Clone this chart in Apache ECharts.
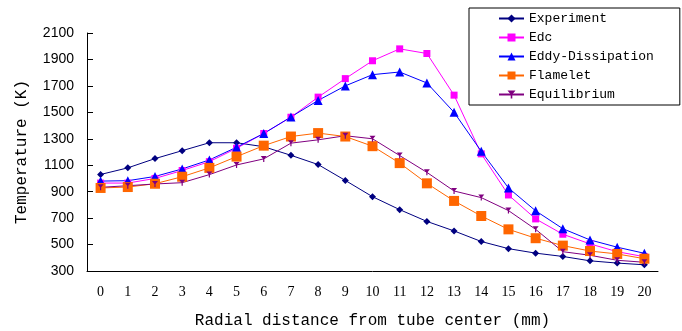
<!DOCTYPE html>
<html><head><meta charset="utf-8">
<script src="https://cdn.jsdelivr.net/npm/echarts@6/dist/echarts.min.js"></script>
<style>html,body{margin:0;padding:0;background:#fff}#c{width:682px;height:331px}</style>
</head><body><div id="c"></div>
<script>
const categories = ['0','1','2','3','4','5','6','7','8','9','10','11','12','13','14','15','16','17','18','19','20'];
const experiment = [1030,1080,1150,1210,1270,1270,1240,1175,1105,985,862,764,675,603,523,469,435,410,377,360,347];
const edc = [965,965,1000,1060,1127,1228,1340,1463,1615,1755,1890,1980,1945,1630,1186,875,694,578,505,446,408];
const eddy = [980,983,1015,1072,1140,1236,1340,1465,1590,1700,1785,1805,1722,1500,1205,928,755,620,535,480,434];
const flamelet = [928,935,960,1013,1080,1165,1248,1317,1343,1317,1244,1116,963,830,716,615,548,492,451,429,393];
const equilibrium = [933,945,958,968,1029,1102,1148,1267,1292,1323,1300,1173,1046,905,855,757,615,446,419,381,366];
const yTicks = {min:300, max:2100, interval:200};

const chart = echarts.init(document.getElementById('c'), null, {renderer:'canvas'});
function ser(name, data, color, symbol, size){
  return {name, type:'line', data, symbol, symbolSize:size, showSymbol:true,
    lineStyle:{color, width:1}, itemStyle:{color}, animation:false};
}
chart.setOption({
  animation:false,
  backgroundColor:'#fff',
  grid:{left:87, right:24, top:33, bottom:60, containLabel:false, outerBoundsMode:'none'},
  legend:{
    orient:'vertical', left:469, top:8,
    backgroundColor:'#fff', borderColor:'#000', borderWidth:1,
    padding:[4,26,4,29], itemGap:6, itemWidth:25, itemHeight:10,
    textStyle:{fontFamily:'Liberation Mono', fontSize:13, color:'#000'},
    data:['Experiment','Edc','Eddy-Dissipation','Flamelet','Equilibrium']
  },
  xAxis:{
    type:'category', data:categories, boundaryGap:true,
    name:'Radial distance from tube center (mm)', nameLocation:'middle', nameGap:42,
    nameTextStyle:{fontFamily:'Liberation Mono', fontSize:16, color:'#000'},
    axisLine:{lineStyle:{color:'#000', width:1}},
    axisTick:{inside:true, length:6, lineStyle:{color:'#000'}},
    axisLabel:{fontFamily:'Liberation Serif', fontSize:14, color:'#000', margin:14},
    splitLine:{show:false}
  },
  yAxis:{
    type:'value', min:yTicks.min, max:yTicks.max, interval:yTicks.interval,
    name:'Temperature (K)', nameLocation:'middle', nameGap:57, nameRotate:90,
    nameTextStyle:{fontFamily:'Liberation Mono', fontSize:16, color:'#000'},
    axisLine:{show:true, lineStyle:{color:'#000', width:1}},
    axisTick:{show:true, inside:true, length:6, lineStyle:{color:'#000'}},
    axisLabel:{fontFamily:'Liberation Sans', fontSize:14, color:'#000', margin:13,
      formatter:function(v){return String(v);}},
    splitLine:{show:false}
  },
  series:[
    ser('Experiment', experiment, '#000080', 'diamond', 7),
    ser('Edc', edc, '#FF00FF', 'rect', 7),
    ser('Eddy-Dissipation', eddy, '#0000FF', 'triangle', 9),
    ser('Flamelet', flamelet, '#FF6600', 'rect', 10),
    ser('Equilibrium', equilibrium, '#800080', 'path://M0,0 L10,0 L6,5 L6,10 L4,10 L4,5 Z', 6)
  ]
});
</script></body></html>
